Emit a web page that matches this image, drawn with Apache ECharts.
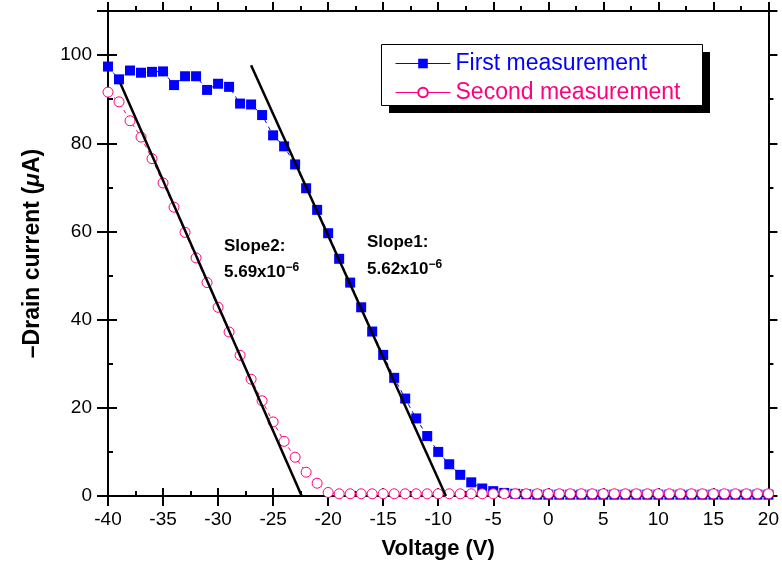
<!DOCTYPE html>
<html>
<head>
<meta charset="utf-8">
<script src="https://cdn.jsdelivr.net/npm/echarts@6/dist/echarts.min.js"></script>
<style>
html,body{margin:0;padding:0;background:#fff;}
#c{width:782px;height:569px;}
</style>
</head>
<body>
<div id="c"></div>
<script>
// Gate voltage (V), -40 .. 20 step 1
const voltage = [-40,-39,-38,-37,-36,-35,-34,-33,-32,-31,-30,-29,-28,-27,-26,-25,-24,-23,-22,-21,
  -20,-19,-18,-17,-16,-15,-14,-13,-12,-11,-10,-9,-8,-7,-6,-5,-4,-3,-2,-1,
  0,1,2,3,4,5,6,7,8,9,10,11,12,13,14,15,16,17,18,19,20];
// First measurement (-Id, uA)
const firstMeas = [97.4,94.5,96.5,96.0,96.2,96.3,93.2,95.2,95.2,92.1,93.5,92.8,89.0,88.8,86.4,81.8,79.3,75.2,69.8,64.9,
  59.6,53.8,48.4,42.8,37.3,32.0,26.8,22.1,17.6,13.6,10.0,7.2,4.8,3.1,1.7,1.1,0.7,0.5,0.4,0.3,
  0.3,0.3,0.3,0.3,0.3,0.3,0.3,0.3,0.3,0.3,0.3,0.3,0.3,0.3,0.3,0.3,0.3,0.3,0.3,0.3,0.3];
// Second measurement (-Id, uA)
const secondMeas = [91.6,89.4,85.1,81.4,76.5,71.0,65.5,59.8,54.0,48.4,42.8,37.2,31.9,26.5,21.6,16.8,12.4,8.8,5.4,2.9,
  0.8,0.5,0.5,0.5,0.5,0.5,0.5,0.5,0.5,0.5,0.5,0.5,0.5,0.5,0.5,0.5,0.5,0.5,0.5,0.5,
  0.5,0.5,0.5,0.5,0.5,0.5,0.5,0.5,0.5,0.5,0.5,0.5,0.5,0.5,0.5,0.5,0.5,0.5,0.5,0.5,0.5];
// Linear fit lines (endpoints)
const fit1X = [-27.0, -9.3];
const fit1Y = [97.7, 0];
const fit2X = [-38.9, -22.4];
const fit2Y = [93.7, 0];
const seriesNames = ['First measurement', 'Second measurement'];
const slopeLabels = ['Slope1:', '5.62x10', 'Slope2:', '5.69x10', '\u22126'];
const xTicks = {min: -40, max: 20, interval: 5};
const yTicks = {min: 0, max: 110, interval: 20};

const FONT = '"Liberation Sans", Arial, Helvetica, sans-serif';
const BLUE = '#0000ff';
const PINK = '#ff0080';

const pair = (xs, ys) => xs.map((x, i) => [x, ys[i]]);

const chart = echarts.init(document.getElementById('c'), null, {renderer: 'canvas'});

function xAx(extra) {
  return Object.assign({
    type: 'value', min: xTicks.min, max: xTicks.max, interval: xTicks.interval,
    splitLine: {show: false},
    axisLine: {show: true, onZero: false, lineStyle: {color: '#000', width: 2}}
  }, extra);
}
function yAx(extra) {
  return Object.assign({
    type: 'value', min: yTicks.min, max: yTicks.max, interval: yTicks.interval,
    splitLine: {show: false},
    axisLine: {show: true, onZero: false, lineStyle: {color: '#000', width: 2}}
  }, extra);
}
const tickStyle = {color: '#000', width: 2};

const option = {
  backgroundColor: '#fff',
  animation: false,
  grid: {left: 108, right: 13, top: 11, bottom: 73, containLabel: false},
  xAxis: [
    xAx({
      position: 'bottom',
      axisTick: {show: true, inside: true, length: 8, lineStyle: tickStyle},
      minorTick: {show: true, splitNumber: 2, length: 5, lineStyle: tickStyle},
      axisLabel: {show: true, margin: 14, fontSize: 19, color: '#000', fontFamily: FONT},
      name: 'Voltage (V)', nameLocation: 'middle', nameGap: 42,
      nameTextStyle: {fontSize: 22, fontWeight: 'bold', color: '#000', fontFamily: FONT}
    }),
    xAx({
      position: 'bottom',
      axisLine: {show: false, onZero: false},
      axisTick: {show: true, inside: false, length: 10, lineStyle: tickStyle},
      axisLabel: {show: false}
    }),
    xAx({
      position: 'top',
      axisTick: {show: true, inside: false, length: 9, lineStyle: tickStyle},
      minorTick: {show: true, splitNumber: 2, length: 5, lineStyle: tickStyle},
      axisLabel: {show: false}
    })
  ],
  yAxis: [
    yAx({
      position: 'left',
      axisTick: {show: true, inside: true, length: 9, lineStyle: tickStyle},
      minorTick: {show: true, splitNumber: 2, length: 5, lineStyle: tickStyle},
      axisLabel: {show: true, margin: 16, fontSize: 19, color: '#000', fontFamily: FONT, showMaxLabel: false},
      name: '{b|\u2013Drain current (}{i|\u03bc}{b|A)}', nameLocation: 'middle', nameGap: 64, nameRotate: 90,
      nameTextStyle: {
        rich: {
          b: {fontSize: 23, fontWeight: 'bold', color: '#000', fontFamily: FONT},
          i: {fontSize: 23, fontWeight: 'bold', fontStyle: 'italic', color: '#000', fontFamily: FONT}
        }
      }
    }),
    yAx({
      position: 'left',
      axisLine: {show: false, onZero: false},
      axisTick: {show: true, inside: false, length: 11, lineStyle: tickStyle},
      axisLabel: {show: false}
    }),
    yAx({
      position: 'right',
      axisTick: {show: true, inside: false, length: 9, lineStyle: tickStyle},
      minorTick: {show: true, splitNumber: 2, length: 5, lineStyle: tickStyle},
      axisLabel: {show: false}
    })
  ],
  legend: {
    orient: 'vertical',
    left: 381, top: 44,
    padding: [8, 20, 1, 14],
    itemGap: 6,
    itemWidth: 55, itemHeight: 12,
    z: 10,
    textStyle: {fontSize: 23, fontFamily: FONT, lineHeight: 23},
    lineStyle: {type: 'solid', width: 1},
    data: [
      {name: seriesNames[0], textStyle: {color: BLUE}},
      {name: seriesNames[1], textStyle: {color: PINK}}
    ]
  },
  graphic: [
    // legend frame and its drop shadow
    {type: 'rect', left: 389, top: 52, z: 1, shape: {width: 321, height: 61}, style: {fill: '#000'}},
    {type: 'rect', left: 381, top: 44, z: 2, shape: {width: 321, height: 61}, style: {fill: '#fff', stroke: '#000', lineWidth: 1}},
    {type: 'text', left: 224, top: 238, z: 100,
      style: {text: slopeLabels[2], font: 'bold 17px ' + FONT, fill: '#000'}},
    {type: 'text', left: 224, top: 262, z: 100,
      style: {text: '{a|' + slopeLabels[3] + '}{s|' + slopeLabels[4] + '}',
        rich: {
          a: {fontSize: 17, fontWeight: 'bold', fontFamily: FONT, fill: '#000', color: '#000'},
          s: {fontSize: 12, fontWeight: 'bold', fontFamily: FONT, fill: '#000', color: '#000', verticalAlign: 'top', padding: [0, 0, 8, 0]}
        }}},
    {type: 'text', left: 367, top: 234, z: 100,
      style: {text: slopeLabels[0], font: 'bold 17px ' + FONT, fill: '#000'}},
    {type: 'text', left: 367, top: 259, z: 100,
      style: {text: '{a|' + slopeLabels[1] + '}{s|' + slopeLabels[4] + '}',
        rich: {
          a: {fontSize: 17, fontWeight: 'bold', fontFamily: FONT, fill: '#000', color: '#000'},
          s: {fontSize: 12, fontWeight: 'bold', fontFamily: FONT, fill: '#000', color: '#000', verticalAlign: 'top', padding: [0, 0, 8, 0]}
        }}}
  ],
  series: [
    {
      name: seriesNames[0], type: 'line', xAxisIndex: 0, yAxisIndex: 0,
      data: pair(voltage, firstMeas),
      symbol: 'rect', symbolSize: 10, showAllSymbol: true,
      lineStyle: {color: BLUE, width: 1, type: [4, 4]},
      itemStyle: {color: BLUE, borderColor: BLUE, borderWidth: 0},
      z: 3, clip: false
    },
    {
      name: seriesNames[1], type: 'line', xAxisIndex: 0, yAxisIndex: 0,
      data: pair(voltage, secondMeas),
      symbol: 'circle', symbolSize: 10, showAllSymbol: true,
      lineStyle: {color: PINK, width: 1, type: [4, 4]},
      itemStyle: {color: '#fff', borderColor: PINK, borderWidth: 1},
      z: 4, clip: false
    },
    {
      name: 'fit1', type: 'line', xAxisIndex: 0, yAxisIndex: 0,
      data: pair(fit1X, fit1Y), symbol: 'none',
      lineStyle: {color: '#000', width: 2.5}, z: 5
    },
    {
      name: 'fit2', type: 'line', xAxisIndex: 0, yAxisIndex: 0,
      data: pair(fit2X, fit2Y), symbol: 'none',
      lineStyle: {color: '#000', width: 2.5}, z: 5
    }
  ]
};
chart.setOption(option);
</script>
</body>
</html>
